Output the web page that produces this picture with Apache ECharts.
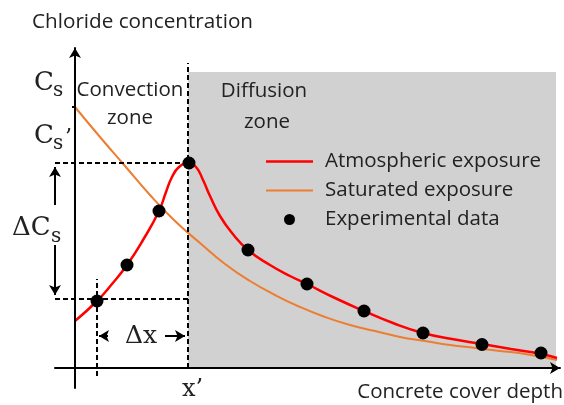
<!DOCTYPE html>
<html>
<head>
<meta charset="utf-8">
<script src="https://cdn.jsdelivr.net/npm/echarts@6/dist/echarts.min.js"></script>
<style>
  html, body { margin: 0; padding: 0; background: #fff; }
  #chart { width: 564px; height: 405px; }
</style>
</head>
<body>
<div id="chart"></div>
<script>
  // depth x (1 unit = 50 px), concentration y (1 unit = 50 px)
  var atmosphericCurve = [
    [0, 0.94], [0.44, 1.34], [0.74, 1.68], [1.04, 2.06], [1.36, 2.56],
    [1.68, 3.14], [1.82, 3.52], [1.94, 3.82], [2.08, 4.02], [2.26, 4.10],
    [2.42, 4.02], [2.56, 3.76], [2.70, 3.44], [2.90, 3.04], [3.14, 2.70],
    [3.46, 2.36], [3.90, 2.06], [4.30, 1.84], [4.64, 1.68], [5.20, 1.40],
    [5.78, 1.14], [6.36, 0.90], [6.96, 0.70], [7.54, 0.58], [8.14, 0.48],
    [8.72, 0.38], [9.32, 0.28], [9.64, 0.20]
  ]
  var saturatedCurve = [
    [0, 5.22], [0.5, 4.62], [1.0, 4.04], [1.5, 3.46], [2.0, 2.94],
    [2.5, 2.50], [3.0, 2.08], [3.5, 1.74], [4.0, 1.46], [4.5, 1.22],
    [5.0, 1.02], [5.5, 0.86], [6.0, 0.74], [6.5, 0.62], [7.0, 0.54],
    [7.5, 0.46], [8.0, 0.40], [8.5, 0.34], [9.0, 0.28], [9.64, 0.16]
  ]
  var experimentalData = [
    [0.44, 1.34], [1.04, 2.06], [1.68, 3.14], [2.28, 4.10], [3.46, 2.36],
    [4.64, 1.68], [5.78, 1.14], [6.96, 0.70], [8.14, 0.47], [9.32, 0.30]
  ]
  var xPrime = 2.26
  var cs = 5.22
  var peakC = 4.10
  var lowC = 1.38
  var xLow = 0.44
  var zoneEnd = 9.62
  var zoneTop = 5.92
  var seriesNames = ['Atmospheric exposure', 'Saturated exposure', 'Experimental data']

  var sans = 'Open Sans'
  var serif = 'DejaVu Serif'
  var ink = '#222'

  function txt (text, x, y, size, align, family) {
    return {
      type: 'text', x: x, y: y, z: 20,
      style: {
        text: text, fill: ink, fontSize: size, fontFamily: family || sans,
        align: align || 'left', verticalAlign: 'middle'
      }
    }
  }

  var dashed = { color: '#000', width: 2, type: [5, 3] }
  var solid = { color: '#000', width: 2, type: 'solid' }

  var chart = echarts.init(document.getElementById('chart'))
  chart.setOption({
    animation: false,
    grid: { left: 55, right: 4, top: 48, bottom: 17, outerBoundsMode: 'none' },
    xAxis: {
      type: 'value', min: -0.4, max: 9.7, z: 10,
      axisLine: { onZero: true, symbol: ['none', 'arrow'], symbolSize: [9, 10], lineStyle: { color: '#000', width: 2 } },
      axisTick: { show: false }, axisLabel: { show: false }, splitLine: { show: false }
    },
    yAxis: {
      type: 'value', min: -0.4, max: 6.4, z: 10,
      axisLine: { onZero: true, symbol: ['none', 'arrow'], symbolSize: [9, 10], lineStyle: { color: '#000', width: 2 } },
      axisTick: { show: false }, axisLabel: { show: false }, splitLine: { show: false }
    },
    legend: {
      orient: 'vertical', left: 266, top: 151, padding: 0,
      itemWidth: 47, itemHeight: 11, itemGap: 8,
      textStyle: { fontSize: 20.5, fontFamily: sans, color: ink, lineHeight: 20, padding: [0, 0, 0, 7] },
      data: [
        { name: seriesNames[0], icon: 'path://M0,0H47V2.5H0Z' },
        { name: seriesNames[1], icon: 'path://M0,0H47V2H0Z' },
        { name: seriesNames[2], icon: 'circle' }
      ]
    },
    series: [
      {
        name: 'zone', type: 'line', data: [], z: 0, silent: true,
        markArea: {
          silent: true, itemStyle: { color: '#d1d1d1' },
          data: [[{ coord: [xPrime, 0] }, { coord: [zoneEnd, zoneTop] }]]
        }
      },
      {
        name: seriesNames[1], type: 'line', data: saturatedCurve, smooth: 0.5,
        symbol: 'none', z: 3, lineStyle: { color: '#ed7d31', width: 2 }, itemStyle: { color: '#ed7d31' }
      },
      {
        name: seriesNames[0], type: 'line', data: atmosphericCurve, smooth: 0.5,
        symbol: 'none', z: 4, lineStyle: { color: '#ff0000', width: 2.5 }, itemStyle: { color: '#ff0000' }
      },
      {
        name: 'guides', type: 'line', data: [], z: 5, clip: false, silent: true,
        markLine: {
          silent: true, symbol: ['none', 'none'], label: { show: false },
          lineStyle: dashed,
          data: [
            [{ coord: [xPrime, 0] }, { coord: [xPrime, 6.1] }],
            [{ coord: [-0.4, peakC] }, { coord: [xPrime, peakC] }],
            [{ coord: [-0.4, lowC] }, { coord: [xPrime, lowC] }],
            [{ coord: [xLow, -0.16] }, { coord: [xLow, 1.78] }],
            [{ coord: [-0.06, cs], lineStyle: solid }, { coord: [0, cs] }],
            [{ coord: [-0.4, 3.26], lineStyle: solid }, { coord: [-0.4, 4.02], symbol: 'arrow', symbolSize: [9, 10] }],
            [{ coord: [-0.4, 2.46], lineStyle: solid }, { coord: [-0.4, 1.46], symbol: 'arrow', symbolSize: [9, 10] }],
            [{ coord: [0.66, 0.64], lineStyle: solid }, { coord: [0.48, 0.64], symbol: 'arrow', symbolSize: [9, 10] }],
            [{ coord: [1.80, 0.64], lineStyle: solid }, { coord: [2.20, 0.64], symbol: 'arrow', symbolSize: [9, 10] }]
          ]
        }
      },
      {
        name: seriesNames[2], type: 'scatter', data: experimentalData, z: 6,
        symbolSize: 13, itemStyle: { color: '#000', opacity: 1 }
      }
    ],
    graphic: [
      txt('Chloride concentration', 32, 22, 20.7),
      txt('Concrete cover depth', 563, 392, 20.5, 'right'),
      txt('Convection', 130, 90, 20.5, 'center'),
      txt('zone', 130, 118, 20.5, 'center'),
      txt('Diffusion', 264, 91, 20.5, 'center'),
      txt('zone', 267, 122, 20.5, 'center'),
      txt('C', 34, 83, 26, 'left', serif),
      txt('s', 53, 91, 20, 'left', serif),
      txt('C', 34, 136, 26, 'left', serif),
      txt('s', 53, 144, 20, 'left', serif),
      txt('\u2019', 65, 138, 22, 'left', serif),
      txt('\u0394C', 12, 228, 26, 'left', serif),
      txt('s', 51, 237, 20, 'left', serif),
      txt('\u0394x', 141, 336, 25, 'center', serif),
      txt('x\u2019', 182, 390, 24, 'left', serif)
    ]
  })
</script>
</body>
</html>
